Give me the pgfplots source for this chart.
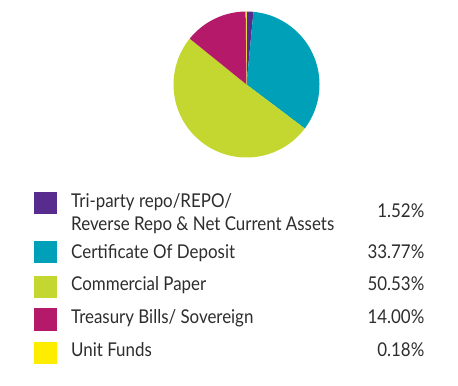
\documentclass[border=0pt]{standalone}
\usepackage{pgfplots}
\usepackage{pgfplotstable}
\pgfplotsset{compat=1.18}
\usepackage{fontspec}
\setmainfont{Lato}[FakeStretch=0.89]
\newfontfamily\numfont{Lato}[FakeStretch=0.89, Numbers=Monospaced]
\definecolor{cPurple}{RGB}{88,44,142}
\definecolor{cTeal}{RGB}{0,160,184}
\definecolor{cGreen}{RGB}{196,214,48}
\definecolor{cMagenta}{RGB}{181,25,106}
\definecolor{cYellow}{RGB}{255,237,0}
\definecolor{txt}{RGB}{45,45,45}

% value (%), colour, square top (px from top), text baseline (px from top)
\pgfplotstableread{
value color ytop base
1.52  cPurple  191.7 217.3
33.77 cTeal    241.0 258.3
50.53 cGreen   275.7 291.0
14.00 cMagenta 308.3 323.3
0.18  cYellow  341.7 356.0
}\piedata

\begin{document}
\begin{tikzpicture}
\useasboundingbox (0,0) rectangle (458bp,386bp);
\begin{axis}[
  width=458bp, height=386bp, scale only axis,
  xmin=0, xmax=458, ymin=0, ymax=386,
  hide axis, clip=false,
  at={(0,0)}, anchor=south west,
]
\xdef\cum{0}
\pgfplotsforeachungrouped \i in {0,...,4} {
  \pgfplotstablegetelem{\i}{value}\of\piedata \let\v\pgfplotsretval
  \pgfplotstablegetelem{\i}{color}\of\piedata \let\c\pgfplotsretval
  \pgfplotstablegetelem{\i}{ytop}\of\piedata \let\yt\pgfplotsretval
  \pgfplotstablegetelem{\i}{base}\of\piedata \let\yb\pgfplotsretval
  \pgfmathsetmacro\a{90-3.6*\cum}
  \pgfmathsetmacro\b{90-3.6*(\cum+\v)}
  \pgfmathsetmacro\cum{\cum+\v}
  \pgfmathsetmacro\sqt{386-\yt}
  \pgfmathsetmacro\sqb{386-\yt-22.5}
  \pgfmathsetmacro\tb{386-\yb}
  \edef\temp{%
    \noexpand\fill[\c] (axis cs:246.5,301.5) -- ++(\a:73bp)
      arc[start angle=\a, end angle=\b, radius=73bp] -- cycle;
    \noexpand\fill[\c] (axis cs:34,\sqb) rectangle (axis cs:56.7,\sqt);
    \noexpand\node[anchor=base east, inner sep=0pt, text=txt,
      font=\noexpand\numfont\noexpand\fontsize{19bp}{23bp}\noexpand\selectfont]
      at (axis cs:424.5,\tb)
      {\noexpand\pgfmathprintnumber[fixed, fixed zerofill, precision=2, assume math mode=true]{\v}\noexpand\%};
  }%
  \temp
}
\begin{scope}[every node/.style={anchor=base west, inner sep=0pt, text=txt,
  font=\fontsize{19bp}{23bp}\selectfont}]
\node at (axis cs:71,{386-207.3}) {Tri-party repo/REPO/};
\node at (axis cs:71,{386-230.3}) {Reverse Repo \& Net Current Assets};
\node at (axis cs:71,{386-258.3}) {Certificate Of Deposit};
\node at (axis cs:71,{386-291.0}) {Commercial Paper};
\node at (axis cs:71,{386-323.3}) {Treasury Bills/ Sovereign};
\node at (axis cs:71,{386-356.0}) {Unit Funds};
\end{scope}
\end{axis}
\end{tikzpicture}
\end{document}
